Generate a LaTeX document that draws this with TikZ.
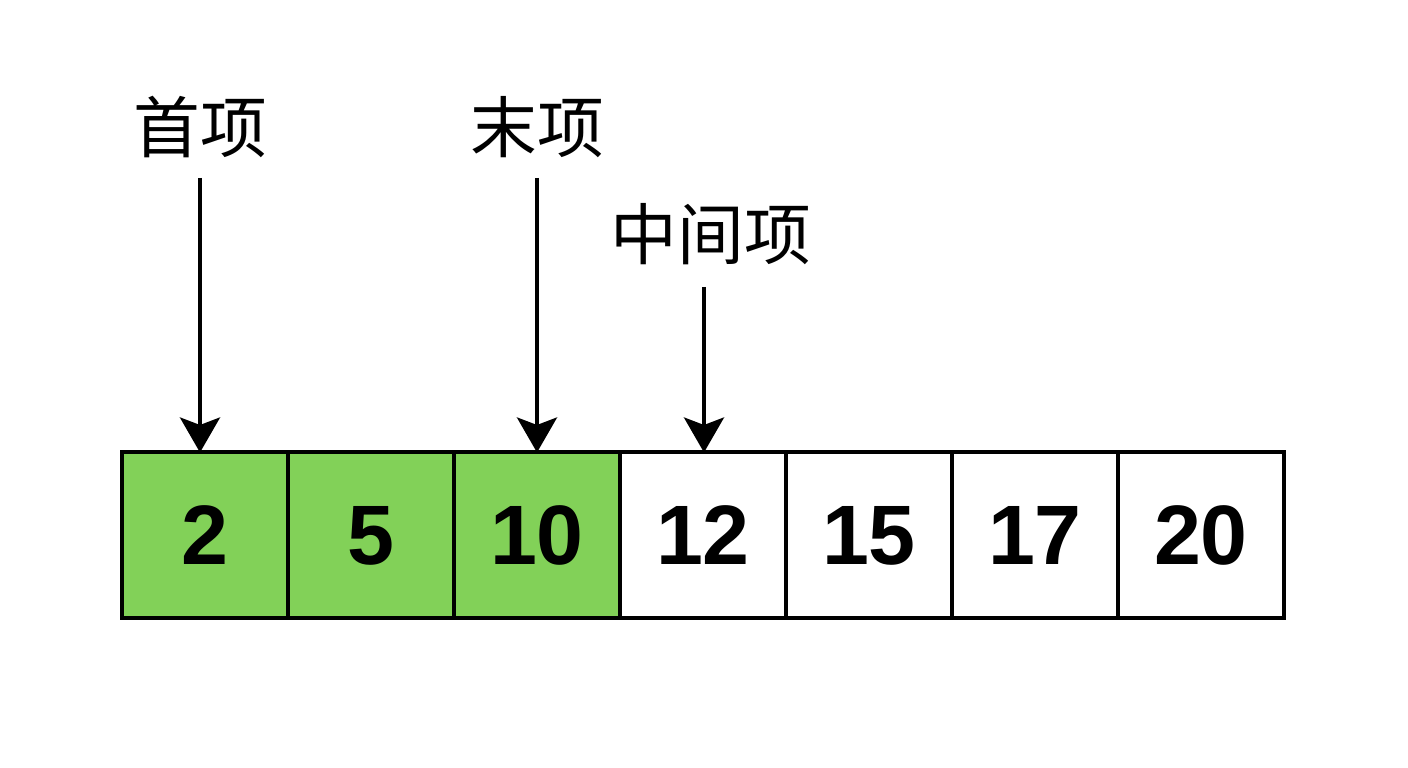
\documentclass[tikz,border=0pt]{standalone}
\usepackage{fontspec}
\usepackage{xcolor}
\usepackage{tikz}
\usetikzlibrary{arrows.meta,positioning}
\setmainfont{Liberation Sans}
\newfontfamily\cjk{Noto Sans CJK SC}
\definecolor{cellgreen}{RGB}{130,209,88}
\tikzset{
  cell/.style={rectangle, draw=black, line width=0.08cm, fill=white, minimum size=3.32cm, outer sep=0pt, inner sep=0pt, font=\fontsize{48}{50}\selectfont\bfseries},
  hitcell/.style={cell, fill=cellgreen},
  tag/.style={font=\cjk\fontsize{38}{40}\selectfont, inner sep=0pt},
  arrow/.style={-{Stealth[length=7mm,width=8mm,inset=1.5mm]}, line width=0.08cm, draw=black}
}

\begin{document}
\begin{tikzpicture}
\useasboundingbox (0,0) rectangle (28.16,15.36);
\node[hitcell] (c1) at (4.10,4.65) {2};
\node[hitcell, right=0pt of c1] (c2) {5};
\node[hitcell, right=0pt of c2] (c3) {10};
\node[cell, right=0pt of c3] (c4) {12};
\node[cell, right=0pt of c4] (c5) {15};
\node[cell, right=0pt of c5] (c6) {17};
\node[cell, right=0pt of c6] (c7) {20};
\node[tag] (first) at (4.00,12.82) {首项};
\node[tag] (last) at (10.74,12.82) {末项};
\node[tag] (middle) at (14.22,10.68) {中间项};
\coordinate (s1) at (4.00,11.80);
\coordinate (s2) at (10.74,11.80);
\coordinate (s3) at (14.08,9.62);
\draw[arrow] (s1)--(s1 |- c1.north);\draw[arrow] (s2)--(s2 |- c3.north);\draw[arrow] (s3)--(s3 |- c4.north);
\end{tikzpicture}
\end{document}
